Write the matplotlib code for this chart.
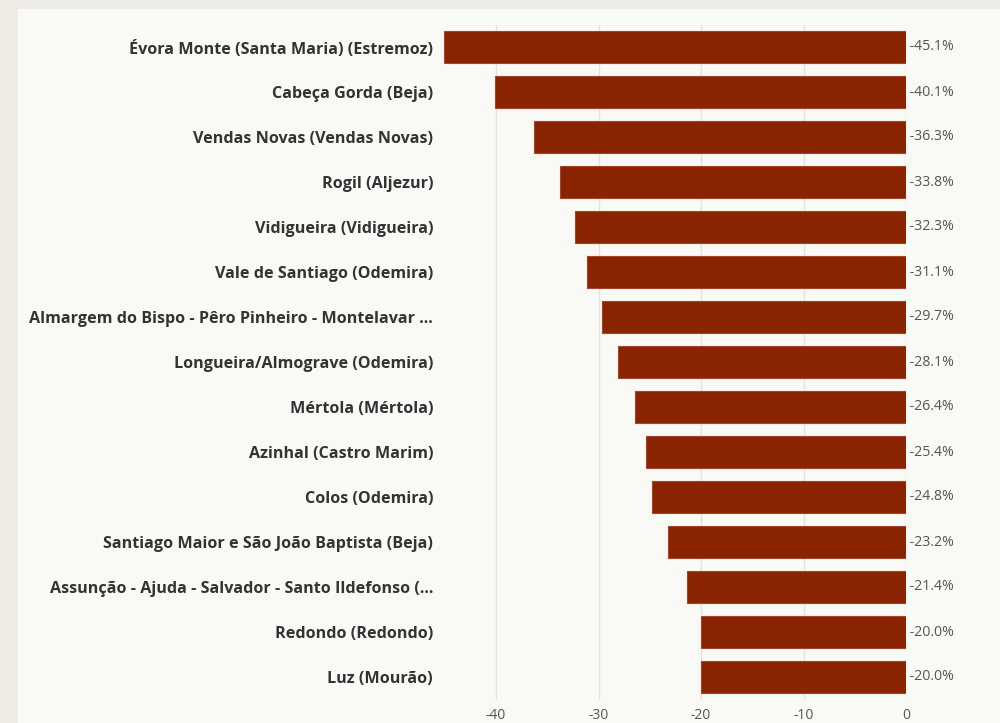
import matplotlib
matplotlib.use("Agg")
import matplotlib.pyplot as plt
from matplotlib.patches import Rectangle

categories = [
    "Évora Monte (Santa Maria) (Estremoz)",
    "Cabeça Gorda (Beja)",
    "Vendas Novas (Vendas Novas)",
    "Rogil (Aljezur)",
    "Vidigueira (Vidigueira)",
    "Vale de Santiago (Odemira)",
    "Almargem do Bispo - Pêro Pinheiro - Montelavar ...",
    "Longueira/Almograve (Odemira)",
    "Mértola (Mértola)",
    "Azinhal (Castro Marim)",
    "Colos (Odemira)",
    "Santiago Maior e São João Baptista (Beja)",
    "Assunção - Ajuda - Salvador - Santo Ildefonso (...",
    "Redondo (Redondo)",
    "Luz (Mourão)",
]
values = [-45.1, -40.1, -36.3, -33.8, -32.3, -31.1, -29.7, -28.1, -26.4, -25.4,
          -24.8, -23.2, -21.4, -20.0, -20.0]
xticks = [-40, -30, -20, -10, 0]

W, H = 1000, 723
fig = plt.figure(figsize=(W / 100, H / 100), dpi=100)
fig.patch.set_facecolor("#efebe5")
fig.patches.append(Rectangle((18 / W, 0), 1 - 18 / W, 1 - 9 / H, transform=fig.transFigure,
                             facecolor="#f9f9f5", edgecolor="none", zorder=-10))

left_px, right_px = 440, 906
top_px, bot_px = 24.5, 699.5
ax = fig.add_axes([left_px / W, 1 - bot_px / H, (right_px - left_px) / W, (bot_px - top_px) / H])
ax.set_zorder(1)
ax.set_facecolor("none")
ax.set_xlim(-(right_px - left_px) / 10.25, 0)
ax.set_ylim(len(categories) - 0.5, -0.5)

ypos = list(range(len(categories)))
ax.barh(ypos, values, height=0.71, color="#8a2300", edgecolor="#a5452a", linewidth=0.8, zorder=3)

for y, v in zip(ypos, values):
    ax.text(0, y, f" {v:.1f}%", ha="left", va="center", fontsize=10.2, color="#555555",
            family="Open Sans", clip_on=False)

ax.set_yticks(ypos)
ax.set_yticklabels(categories, fontsize=11.6, fontweight="bold", color="#333333", family="Open Sans")
ax.set_xticks(xticks)
ax.set_xticklabels([str(t) for t in xticks], fontsize=10, color="#555555", family="Open Sans")
ax.tick_params(axis="y", length=0, pad=5)
ax.tick_params(axis="x", length=0, pad=6)
ax.grid(axis="x", color="#e3e3e0", linewidth=1, zorder=0)
ax.set_axisbelow(True)
for s in ax.spines.values():
    s.set_visible(False)

fig.savefig("out.png", dpi=100, facecolor=fig.get_facecolor())
